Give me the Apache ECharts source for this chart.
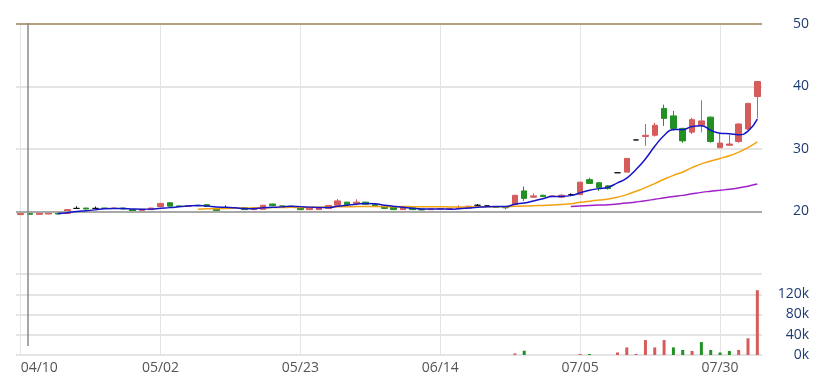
<!DOCTYPE html>
<html>
<head>
<meta charset="utf-8">
<script src="https://cdn.jsdelivr.net/npm/echarts@6/dist/echarts.min.js"></script>
<style>
html,body{margin:0;padding:0;background:#fff;}
#chart{width:824px;height:381px;}
</style>
</head>
<body>
<div id="chart"></div>
<script>
const dates = [
 '04/10','04/11','04/12','04/15','04/16','04/17','04/18','04/19','04/22','04/23','04/24','04/25','04/26','04/29','04/30',
 '05/02','05/03','05/06','05/07','05/08','05/09','05/10','05/13','05/14','05/15','05/16','05/17','05/20','05/21','05/22','05/23','05/24','05/27','05/28','05/29','05/30','05/31',
 '06/03','06/04','06/05','06/06','06/07','06/11','06/12','06/13','06/14','06/17','06/18','06/19','06/20','06/21','06/24','06/25','06/26','06/27','06/28',
 '07/01','07/02','07/03','07/04','07/05','07/08','07/09','07/10','07/11','07/12','07/15','07/16','07/17','07/18','07/19','07/22','07/23','07/26','07/29','07/30','07/31',
 '08/01','08/02','08/05'
];
const opens = [
 19.5,19.7,19.55,19.6,19.9,19.7,20.5,20.55,20.5,20.55,20.5,20.55,20.3,20.15,20.3,
 20.8,21.4,20.9,20.85,21.0,21.1,20.5,20.6,20.55,20.6,20.3,20.35,21.2,20.9,20.85,20.6,20.3,20.3,20.5,21.0,21.5,21.3,
 21.5,21.1,20.8,20.75,20.3,20.6,20.4,20.3,20.4,20.45,20.5,20.55,21.0,20.9,20.75,20.75,21.1,23.3,22.3,
 22.6,22.4,22.3,22.7,22.7,25.1,24.6,24.1,26.2,26.3,31.45,32.0,32.2,36.5,35.3,33.3,32.7,33.8,35.1,30.2,30.6,
 31.2,33.2,38.4
];
const closes = [
 19.7,19.55,19.75,19.85,19.6,20.3,20.5,20.4,20.5,20.5,20.55,20.4,20.05,20.35,20.55,
 21.3,20.85,20.8,20.95,20.9,20.8,20.15,20.6,20.5,20.3,20.6,21.0,20.95,20.85,20.8,20.3,20.6,20.6,20.95,21.7,21.1,21.5,
 21.15,20.8,20.5,20.3,20.7,20.3,20.25,20.4,20.45,20.5,20.6,20.85,21.0,20.9,20.65,20.6,22.6,22.1,22.5,
 22.4,22.5,22.6,22.7,24.7,24.5,23.8,23.7,26.2,28.5,31.45,32.2,33.8,34.9,33.3,31.3,34.7,34.5,31.2,30.95,30.8,
 34.0,37.3,40.8
];
const lows = [
 19.45,19.5,19.55,19.6,19.55,19.6,20.4,20.35,20.45,20.45,20.45,20.35,20.0,20.1,20.3,
 20.8,20.8,20.75,20.85,20.85,20.75,20.1,20.55,20.45,20.25,20.3,20.3,20.9,20.8,20.75,20.25,20.25,20.3,20.45,21.0,21.05,21.3,
 21.1,20.75,20.45,20.25,20.25,20.25,20.2,20.25,20.4,20.45,20.5,20.5,20.95,20.85,20.6,20.35,21.1,21.7,22.2,
 22.3,22.35,22.2,22.6,22.7,24.4,23.3,23.5,26.2,26.3,31.45,30.5,32.0,33.7,32.9,31.0,32.4,32.65,31.0,30.2,30.5,
 31.0,33.0,34.9
];
const highs = [
 19.7,19.7,19.8,19.9,19.9,20.4,20.85,20.6,20.8,20.6,20.6,20.6,20.3,20.4,20.6,
 21.35,21.45,20.95,21.0,21.05,21.15,20.55,20.95,20.6,20.65,20.65,21.05,21.25,20.95,20.9,20.65,20.8,20.65,21.0,22.0,21.55,21.95,
 21.55,21.15,20.85,20.8,20.75,20.65,20.45,20.45,20.5,20.55,21.0,20.9,21.2,20.95,20.8,20.85,22.6,24.0,22.9,
 22.7,22.6,22.8,22.9,24.7,25.4,24.7,24.2,26.2,28.5,31.45,34.0,34.2,37.1,36.1,33.4,35.0,37.8,35.2,32.5,32.3,
 34.1,37.4,40.8
];
const volumes = [
 0,0,0,0,0,0,0,0,0,0,0,0,0,0,0,
 0,0,0,0,0,0,0,0,0,0,0,0,0,0,0,0,0,0,0,0,0,0,
 0,0,0,0,0,0,0,0,0,0,0,0,0,0,0,0,3000,8500,0,
 0,0,0,0,2000,2000,0,0,5000,15000,2000,29500,15000,29500,15000,10000,8000,25500,10000,5000,8000,
 10000,33000,128000
];
const priceTicks = [10, 50, 10];     // min, max, interval
const volumeTicks = [0, 160000, 40000];
const refLines = [20, 50];

function movingAverage(n) {
  return closes.map((c, i) => {
    if (i < n - 1) return '-';
    let s = 0;
    for (let k = i - n + 1; k <= i; k++) s += closes[k];
    return +(s / n).toFixed(3);
  });
}

const RED = '#d65c5c', GREEN = '#239023';
const candleData = dates.map((d, i) => [opens[i], closes[i], lows[i], highs[i]]);
const volData = volumes.map((v, i) => ({
  value: v,
  itemStyle: { color: (i > 0 && closes[i] < closes[i - 1]) ? GREEN : RED }
}));

const font = '"Open Sans", "DejaVu Sans", sans-serif';
const chart = echarts.init(document.getElementById('chart'), null, { renderer: 'canvas' });
const xCommon = {
  type: 'category', data: dates, boundaryGap: true,
  axisLine: { show: false }, axisTick: { show: false, alignWithLabel: true, interval: 14 },
  splitLine: { show: true, interval: 14, alignWithLabel: true, lineStyle: { color: '#e4e4e4', width: 1 } }
};
chart.setOption({
  animation: false,
  backgroundColor: '#fff',
  grid: [
    { left: 16, right: 62, top: 24, height: 250 },
    { left: 16, right: 62, top: 274, height: 81 }
  ],
  xAxis: [
    Object.assign({}, xCommon, { gridIndex: 0, axisLabel: { show: false, interval: 14 } }),
    Object.assign({}, xCommon, { gridIndex: 1, axisLabel: { show: true, interval: 14, color: '#555', fontSize: 14, fontFamily: font, margin: 6, alignMinLabel: 'left' } })
  ],
  yAxis: [
    { gridIndex: 0, type: 'value', position: 'right', min: priceTicks[0], max: priceTicks[1], interval: priceTicks[2],
      axisLine: { show: false }, axisTick: { show: false },
      splitLine: { lineStyle: { color: '#e4e4e4', width: 2 } },
      axisLabel: { color: '#1f3b73', fontSize: 14, fontFamily: font, align: 'right', margin: 47,
        formatter: v => v === priceTicks[0] ? '' : String(v) } },
    { gridIndex: 1, type: 'value', position: 'right', min: volumeTicks[0], max: volumeTicks[1], interval: volumeTicks[2],
      axisLine: { show: false }, axisTick: { show: false },
      splitLine: { lineStyle: { color: '#e4e4e4', width: 2 } },
      axisLabel: { color: '#1f3b73', fontSize: 14, fontFamily: font, align: 'right', margin: 47,
        formatter: v => v >= volumeTicks[1] ? '' : (v / 1000) + 'k' } }
  ],
  graphic: [
    { type: 'line', silent: true, z: 100, shape: { x1: 28, y1: 23, x2: 28, y2: 346 }, style: { stroke: '#8a8a8a', lineWidth: 1.5 } }
  ],
  series: [
    { type: 'candlestick', xAxisIndex: 0, yAxisIndex: 0, data: candleData, barWidth: 6, clip: false,
      itemStyle: { color: RED, color0: GREEN, borderColor: RED, borderColor0: GREEN, borderColorDoji: '#111', borderWidth: 1 },
      markLine: { silent: true, symbol: ['none', 'none'], label: { show: false }, animation: false,
        data: [
          { yAxis: refLines[0], lineStyle: { color: '#a8a8a8', width: 2, type: 'solid' } },
          { yAxis: refLines[1], lineStyle: { color: '#b3a082', width: 2, type: 'solid' } }
        ] } },
    { type: 'line', name: 'MA5', data: movingAverage(5), smooth: true, showSymbol: false, lineStyle: { color: '#1515c8', width: 1.5 }, z: 5 },
    { type: 'line', name: 'MA20', data: movingAverage(20), smooth: true, showSymbol: false, lineStyle: { color: '#f3a20f', width: 1.5 }, z: 4 },
    { type: 'line', name: 'MA60', data: movingAverage(60), smooth: true, showSymbol: false, lineStyle: { color: '#a020c8', width: 1.5 }, z: 4 },
    { type: 'bar', xAxisIndex: 1, yAxisIndex: 1, data: volData, barWidth: 3 }
  ]
});
</script>
</body>
</html>
